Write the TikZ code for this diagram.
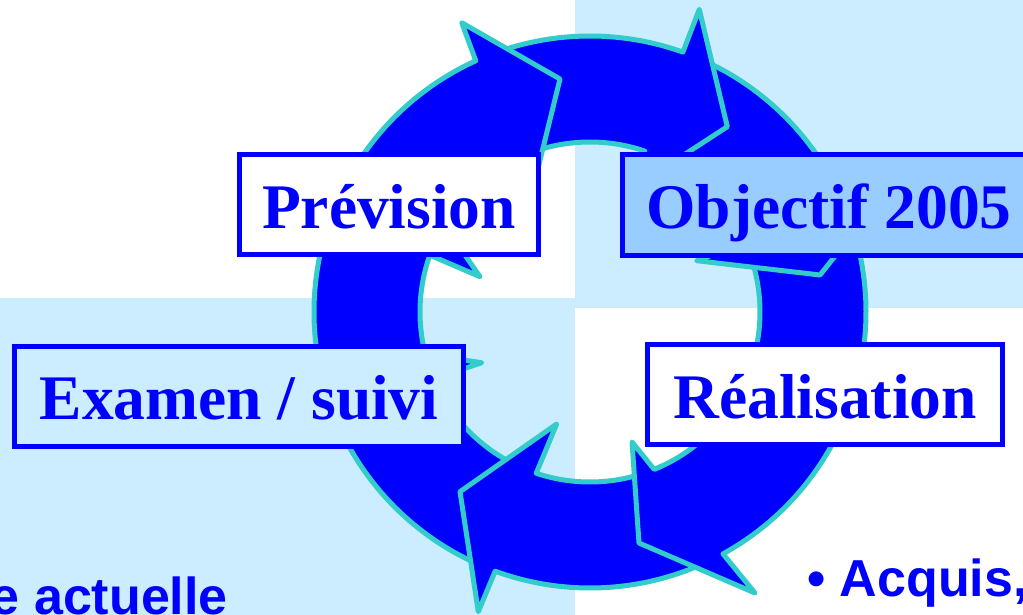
\documentclass[tikz,border=0pt]{standalone}
\usepackage{fontspec}
\setmainfont{Liberation Serif}
\newfontfamily\arialfont{Liberation Sans}
\definecolor{lblue}{RGB}{204,236,255}
\definecolor{mblue}{RGB}{153,204,255}
\definecolor{ringcyan}{RGB}{51,204,204}
\definecolor{pblue}{RGB}{0,0,255}
% #1 start angle, #2 outer notch angle, #3 outer barb, #4 tip, #5 inner barb, #6 inner notch angle
\newcommand{\myarrow}[6]{%
  \draw[seg] plot[domain=#1:#2, samples=60] ({590+276*cos(\x)},{312-276*sin(\x)})
    -- #3 -- #4 -- #5
    -- plot[domain=#6:#1, samples=60] ({590+170*cos(\x)},{312-170*sin(\x)}) -- cycle;}
\begin{document}
\begin{tikzpicture}[x=1pt,y=-1pt,
  seg/.style={fill=pblue, draw=ringcyan, line width=5pt, line join=round},
  labelbox/.style={draw=pblue, line width=5pt, minimum height=100pt, inner sep=0pt,
    text height=55pt, text depth=8pt, text=pblue,
    font=\fontsize{63.5}{63.5}\selectfont\bfseries},
  bottomtext/.style={inner sep=0pt, text=pblue,
    font=\arialfont\bfseries\fontsize{52}{52}\selectfont}]
\useasboundingbox (0,0) rectangle (1023,615);
\clip (0,0) rectangle (1023,615);
% background quadrants
\fill[white] (0,0) rectangle (1023,615);
\fill[lblue] (575,0) rectangle (1023,308);
\fill[lblue] (0,298) rectangle (575,615);
% ring of arrows (clockwise)
\myarrow{196}{159.0}{(291,195.4)}{(408.6,173.9)}{(480,276.7)}{160.45}
\myarrow{247}{201.6}{(289,428.7)}{(395,350)}{(481.7,362.7)}{203.2}
\myarrow{295}{249.9}{(478.3,611.7)}{(460,491.7)}{(556.7,424)}{251.55}
\myarrow{338}{298.8}{(755,593)}{(639,543)}{(632,442)}{292.2}
\myarrow{20}{-20.55}{(890,425)}{(780,440)}{(712,356)}{-20.15}
\myarrow{66}{22.5}{(887,190.7)}{(820,275)}{(696.7,260.7)}{24.0}
\myarrow{110}{70.33}{(699.3,9.3)}{(727.3,126.7)}{(630,190)}{71.2}
\myarrow{156}{114.45}{(461.7,22.7)}{(560,79)}{(529,205)}{117.1}
% label boxes
\node[labelbox, fill=white, minimum width=299pt] (prevision) at (389,204.5) {Prévision};
\node[labelbox, fill=mblue, minimum width=413pt] (objectif) at (829,205) {Objectif 2005};
\node[labelbox, fill=lblue, minimum width=449pt] (examen) at (239,396) {Examen / suivi};
\node[labelbox, fill=white, minimum width=355pt] (realisation) at (825,394.5) {Réalisation};
% bottom texts
\node[bottomtext, anchor=base east] (actuelle) at (228,614) {e actuelle};
\node[bottomtext, anchor=base west] (acquis) at (807,596) {• Acquis,};
\end{tikzpicture}
\end{document}
